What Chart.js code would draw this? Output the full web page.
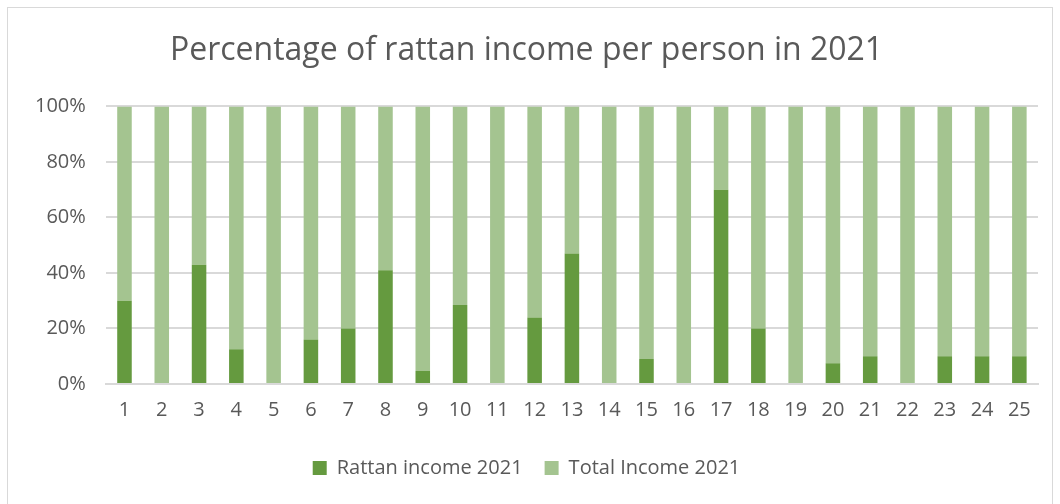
<!DOCTYPE html>
<html>
<head>
<meta charset="utf-8">
<script src="https://cdn.jsdelivr.net/npm/chart.js@4/dist/chart.umd.min.js"></script>
<style>
  body { margin: 0; background: #fff; }
  #wrap { position: relative; width: 1060px; height: 504px; }
  #frame { position: absolute; left: 7px; top: 7px; width: 1046px; height: 500px; border: 1px solid #d9d9d9; box-sizing: border-box; }
  canvas { position: absolute; left: 0; top: 0; }
</style>
</head>
<body>
<div id="wrap">
  <div id="frame"></div>
  <canvas id="rattanChart" width="1060" height="504"></canvas>
</div>
<script>
// people 1..25
const people = ['1','2','3','4','5','6','7','8','9','10','11','12','13','14','15','16','17','18','19','20','21','22','23','24','25'];
// share of rattan income (%)
const rattanShare = [30, 0, 43, 12.5, 0, 16, 20, 41, 4.7, 28.5, 0, 24, 47, 0, 9, 0, 70, 20, 0, 7.5, 10, 0, 10, 10, 10];
// share of the rest of total income (%)
const totalShare = [70, 100, 57, 87.5, 100, 84, 80, 59, 95.3, 71.5, 100, 76, 53, 100, 91, 100, 30, 80, 100, 92.5, 90, 100, 90, 90, 90];
const yTicks = [0, 20, 40, 60, 80, 100];

const textColor = '#595959';
const fontFamily = '"Open Sans", "Noto Sans", sans-serif';

new Chart(document.getElementById('rattanChart').getContext('2d'), {
  type: 'bar',
  data: {
    labels: people,
    datasets: [
      {
        label: 'Rattan income 2021',
        data: rattanShare,
        backgroundColor: '#659a3f',
        borderWidth: 0,
        barPercentage: 0.39,
        categoryPercentage: 1
      },
      {
        label: 'Total Income 2021',
        data: totalShare,
        backgroundColor: '#a4c490',
        borderWidth: 0,
        barPercentage: 0.39,
        categoryPercentage: 1
      }
    ]
  },
  options: {
    responsive: false,
    animation: false,
    layout: { padding: { left: 15, right: 22, top: 10, bottom: 16 } },
    plugins: {
      title: {
        display: true,
        text: 'Percentage of rattan income per person in 2021',
        color: textColor,
        font: { family: fontFamily, size: 32, weight: 'normal' },
        padding: { top: 22, bottom: 36 }
      },
      legend: {
        position: 'bottom',
        labels: {
          color: textColor,
          font: { family: fontFamily, size: 20 },
          boxWidth: 14,
          boxHeight: 14,
          padding: 22
        }
      },
      tooltip: { enabled: false }
    },
    scales: {
      x: {
        stacked: true,
        grid: { display: false, drawTicks: false },
        border: { color: '#d9d9d9', width: 2 },
        ticks: { color: textColor, font: { family: fontFamily, size: 20 }, padding: 14, maxRotation: 0 }
      },
      y: {
        stacked: true,
        min: 0,
        max: 100,
        afterBuildTicks: axis => { axis.ticks = yTicks.map(v => ({ value: v })); },
        grid: { color: '#d9d9d9', lineWidth: 2, drawTicks: false },
        border: { display: false },
        ticks: {
          color: textColor,
          font: { family: fontFamily, size: 20 },
          padding: 20,
          callback: v => v + '%'
        }
      }
    }
  }
});
</script>
</body>
</html>
